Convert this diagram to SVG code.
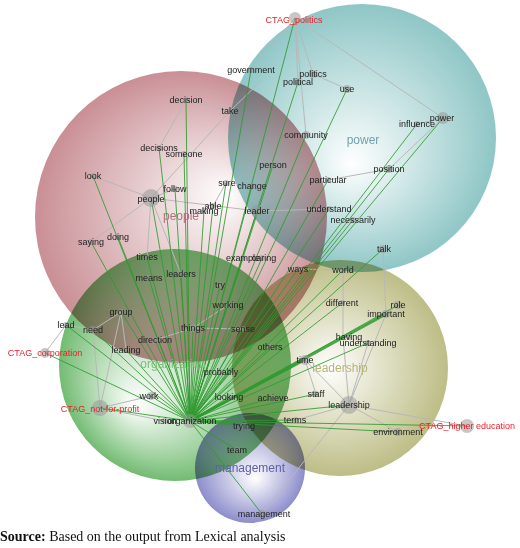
<svg xmlns="http://www.w3.org/2000/svg" width="520" height="548" viewBox="0 0 520 548">
<defs>
<radialGradient id="gPower" cx="0.5" cy="0.5" r="0.5" fx="0.46" fy="0.6"><stop offset="0" stop-color="#ffffff"/><stop offset="1" stop-color="#8fc6c6"/></radialGradient>
<radialGradient id="gPeople" cx="0.5" cy="0.5" r="0.5" fx="0.66" fy="0.42"><stop offset="0" stop-color="#ffffff"/><stop offset="1" stop-color="#c98f95"/></radialGradient>
<radialGradient id="gOrg" cx="0.5" cy="0.5" r="0.5" fx="0.32" fy="0.68"><stop offset="0" stop-color="#ffffff"/><stop offset="1" stop-color="#72bb72"/></radialGradient>
<radialGradient id="gLead" cx="0.5" cy="0.5" r="0.5" fx="0.45" fy="0.5"><stop offset="0" stop-color="#ffffff"/><stop offset="1" stop-color="#bdbd86"/></radialGradient>
<radialGradient id="gMan" cx="0.5" cy="0.5" r="0.5" fx="0.55" fy="0.6"><stop offset="0" stop-color="#ffffff"/><stop offset="1" stop-color="#8d8dcc"/></radialGradient>
</defs>
<style>
.cl{mix-blend-mode:multiply}
.w{font-family:"Liberation Sans",Arial,sans-serif;font-size:9px;fill:#222;text-anchor:middle}
.t{fill:#e8202a}
.big{font-family:"Liberation Sans",Arial,sans-serif;font-size:12px;text-anchor:middle}
.e{stroke:#b8b8b8;stroke-width:1;fill:none}
.gl{stroke:#2f9a2f;stroke-width:1;stroke-opacity:0.85;fill:none}
.gt{stroke:#2f9a2f;stroke-width:3;stroke-opacity:0.85;fill:none}
.n{fill:#999;fill-opacity:0.55}
.src{font-family:"Liberation Serif","Times New Roman",serif;font-size:14px;fill:#111}
</style>
<g id="clusters">
<circle class="cl" cx="362" cy="138" r="134" fill="url(#gPower)"/>
<circle class="cl" cx="181" cy="217" r="146" fill="url(#gPeople)"/>
<circle class="cl" cx="175" cy="365" r="116" fill="url(#gOrg)"/>
<circle class="cl" cx="340" cy="368" r="108" fill="url(#gLead)"/>
<circle class="cl" cx="250" cy="468" r="55" fill="url(#gMan)"/>
</g>
<g id="connectors">
<g class="e">
<line x1="295" y1="18" x2="251" y2="70"/>
<line x1="295" y1="18" x2="298" y2="82"/>
<line x1="295" y1="18" x2="313" y2="74"/>
<line x1="295" y1="18" x2="306" y2="135"/>
<line x1="295" y1="18" x2="443" y2="118"/>
<line x1="313" y1="74" x2="347" y2="89"/>
<line x1="186" y1="100" x2="230" y2="111"/>
<line x1="186" y1="100" x2="159" y2="148"/>
<line x1="230" y1="111" x2="151" y2="198"/>
<line x1="262" y1="80" x2="230" y2="111"/>
<line x1="151" y1="198" x2="93" y2="176"/>
<line x1="151" y1="198" x2="91" y2="242"/>
<line x1="151" y1="198" x2="175" y2="189"/>
<line x1="151" y1="198" x2="257" y2="211"/>
<line x1="151" y1="198" x2="147" y2="257"/>
<line x1="151" y1="198" x2="181" y2="274"/>
<line x1="226" y1="183" x2="213" y2="206"/>
<line x1="257" y1="211" x2="329" y2="209"/>
<line x1="328" y1="180" x2="389" y2="169"/>
<line x1="389" y1="169" x2="443" y2="118"/>
<line x1="417" y1="124" x2="443" y2="118"/>
<line x1="383" y1="249" x2="386" y2="314"/>
<line x1="343" y1="270" x2="343" y2="337"/>
<line x1="298" y1="269" x2="343" y2="270"/>
<line x1="386" y1="314" x2="398" y2="305"/>
<line x1="386" y1="314" x2="349" y2="405"/>
<line x1="343" y1="337" x2="349" y2="405"/>
<line x1="368" y1="343" x2="349" y2="405"/>
<line x1="305" y1="360" x2="349" y2="405"/>
<line x1="305" y1="360" x2="316" y2="394"/>
<line x1="349" y1="405" x2="296" y2="420"/>
<line x1="349" y1="405" x2="398" y2="432"/>
<line x1="349" y1="405" x2="467" y2="426"/>
<line x1="349" y1="405" x2="262" y2="514"/>
<line x1="121" y1="312" x2="93" y2="330"/>
<line x1="121" y1="312" x2="126" y2="350"/>
<line x1="121" y1="312" x2="100" y2="408"/>
<line x1="66" y1="325" x2="93" y2="330"/>
<line x1="66" y1="325" x2="45" y2="353"/>
<line x1="93" y1="330" x2="100" y2="408"/>
<line x1="100" y1="408" x2="151" y2="396"/>
<line x1="100" y1="408" x2="165" y2="421"/>
<line x1="193" y1="328" x2="243" y2="329"/>
<line x1="193" y1="328" x2="155" y2="340"/>
<line x1="193" y1="328" x2="228" y2="305"/>
</g>
<g class="gl">
<line x1="190" y1="421" x2="295" y2="18"/>
<line x1="190" y1="421" x2="251" y2="70"/>
<line x1="190" y1="421" x2="298" y2="82"/>
<line x1="190" y1="421" x2="347" y2="89"/>
<line x1="190" y1="421" x2="186" y2="100"/>
<line x1="190" y1="421" x2="306" y2="135"/>
<line x1="190" y1="421" x2="443" y2="118"/>
<line x1="190" y1="421" x2="417" y2="124"/>
<line x1="190" y1="421" x2="389" y2="169"/>
<line x1="190" y1="421" x2="273" y2="165"/>
<line x1="190" y1="421" x2="159" y2="148"/>
<line x1="190" y1="421" x2="184" y2="154"/>
<line x1="190" y1="421" x2="93" y2="176"/>
<line x1="190" y1="421" x2="151" y2="198"/>
<line x1="190" y1="421" x2="175" y2="189"/>
<line x1="190" y1="421" x2="226" y2="183"/>
<line x1="190" y1="421" x2="252" y2="186"/>
<line x1="190" y1="421" x2="204" y2="211"/>
<line x1="190" y1="421" x2="213" y2="206"/>
<line x1="190" y1="421" x2="257" y2="211"/>
<line x1="190" y1="421" x2="328" y2="180"/>
<line x1="190" y1="421" x2="329" y2="209"/>
<line x1="190" y1="421" x2="353" y2="220"/>
<line x1="190" y1="421" x2="383" y2="249"/>
<line x1="190" y1="421" x2="91" y2="242"/>
<line x1="190" y1="421" x2="118" y2="237"/>
<line x1="190" y1="421" x2="147" y2="257"/>
<line x1="190" y1="421" x2="149" y2="278"/>
<line x1="190" y1="421" x2="181" y2="274"/>
<line x1="190" y1="421" x2="243" y2="258"/>
<line x1="190" y1="421" x2="262" y2="258"/>
<line x1="190" y1="421" x2="298" y2="269"/>
<line x1="190" y1="421" x2="343" y2="270"/>
<line x1="190" y1="421" x2="220" y2="285"/>
<line x1="190" y1="421" x2="228" y2="305"/>
<line x1="190" y1="421" x2="121" y2="312"/>
<line x1="190" y1="421" x2="66" y2="325"/>
<line x1="190" y1="421" x2="93" y2="330"/>
<line x1="190" y1="421" x2="193" y2="328"/>
<line x1="190" y1="421" x2="243" y2="329"/>
<line x1="190" y1="421" x2="155" y2="340"/>
<line x1="190" y1="421" x2="126" y2="350"/>
<line x1="190" y1="421" x2="45" y2="353"/>
<line x1="190" y1="421" x2="270" y2="347"/>
<line x1="190" y1="421" x2="342" y2="303"/>
<line x1="190" y1="421" x2="398" y2="305"/>
<line x1="190" y1="421" x2="368" y2="343"/>
<line x1="190" y1="421" x2="221" y2="372"/>
<line x1="190" y1="421" x2="151" y2="396"/>
<line x1="190" y1="421" x2="229" y2="397"/>
<line x1="190" y1="421" x2="273" y2="398"/>
<line x1="190" y1="421" x2="100" y2="408"/>
<line x1="190" y1="421" x2="316" y2="394"/>
<line x1="190" y1="421" x2="349" y2="405"/>
<line x1="190" y1="421" x2="244" y2="426"/>
<line x1="190" y1="421" x2="296" y2="420"/>
<line x1="190" y1="421" x2="398" y2="432"/>
<line x1="190" y1="421" x2="467" y2="426"/>
<line x1="190" y1="421" x2="237" y2="450"/>
<line x1="190" y1="421" x2="262" y2="514"/>
</g>
<g class="gt">
<line x1="190" y1="421" x2="386" y2="314"/>
<line x1="190" y1="421" x2="305" y2="360" stroke-width="2"/>
</g>
</g>
<g id="labels-big">
<text class="big" x="363" y="144" fill="#6fa3aa">power</text>
<text class="big" x="181" y="220" fill="#b2717f">people</text>
<text class="big" x="173" y="368" fill="#78c278">organization</text>
<text class="big" x="340" y="372" fill="#b6b579">leadership</text>
<text class="big" x="250" y="472" fill="#5f60a8">management</text>
</g>
<g id="nodes">
<g id="n-ctag-politics"><circle class="n" cx="295" cy="18" r="6"/><text class="w t" x="294" y="23">CTAG_politics</text></g>
<g id="n-government"><circle class="n" cx="251" cy="70" r="3"/><text class="w" x="251" y="73">government</text></g>
<g id="n-politics"><circle class="n" cx="313" cy="74" r="4"/><text class="w" x="313" y="77">politics</text></g>
<g id="n-political"><circle class="n" cx="298" cy="82" r="4"/><text class="w" x="298" y="85">political</text></g>
<g id="n-use"><circle class="n" cx="347" cy="89" r="4"/><text class="w" x="347" y="92">use</text></g>
<g id="n-decision"><circle class="n" cx="186" cy="100" r="3"/><text class="w" x="186" y="103">decision</text></g>
<g id="n-take"><circle class="n" cx="230" cy="111" r="3"/><text class="w" x="230" y="114">take</text></g>
<g id="n-community"><circle class="n" cx="306" cy="135" r="4"/><text class="w" x="306" y="138">community</text></g>
<g id="n-power"><circle class="n" cx="443" cy="118" r="6"/><text class="w" x="442" y="121">power</text></g>
<g id="n-influence"><circle class="n" cx="417" cy="124" r="3"/><text class="w" x="417" y="127">influence</text></g>
<g id="n-position"><circle class="n" cx="389" cy="169" r="4"/><text class="w" x="389" y="172">position</text></g>
<g id="n-person"><circle class="n" cx="273" cy="165" r="3"/><text class="w" x="273" y="168">person</text></g>
<g id="n-decisions"><circle class="n" cx="159" cy="148" r="3"/><text class="w" x="159" y="151">decisions</text></g>
<g id="n-someone"><circle class="n" cx="184" cy="154" r="3"/><text class="w" x="184" y="157">someone</text></g>
<g id="n-look"><circle class="n" cx="93" cy="176" r="3"/><text class="w" x="93" y="179">look</text></g>
<g id="n-people"><circle class="n" cx="151" cy="198" r="9"/><text class="w" x="151" y="202">people</text></g>
<g id="n-follow"><circle class="n" cx="175" cy="189" r="3"/><text class="w" x="175" y="192">follow</text></g>
<g id="n-sure"><circle class="n" cx="226" cy="183" r="3"/><text class="w" x="227" y="186">sure</text></g>
<g id="n-change"><circle class="n" cx="252" cy="186" r="3"/><text class="w" x="252" y="189">change</text></g>
<g id="n-making"><circle class="n" cx="204" cy="211" r="3"/><text class="w" x="204" y="214">making</text></g>
<g id="n-able"><circle class="n" cx="213" cy="206" r="3"/><text class="w" x="213" y="209">able</text></g>
<g id="n-leader"><circle class="n" cx="257" cy="211" r="6" fill="#667"/><text class="w" x="257" y="214">leader</text></g>
<g id="n-particular"><circle class="n" cx="328" cy="180" r="3"/><text class="w" x="328" y="183">particular</text></g>
<g id="n-understand"><circle class="n" cx="329" cy="209" r="3"/><text class="w" x="329" y="212">understand</text></g>
<g id="n-necessarily"><circle class="n" cx="353" cy="220" r="3"/><text class="w" x="353" y="223">necessarily</text></g>
<g id="n-talk"><circle class="n" cx="383" cy="249" r="4"/><text class="w" x="384" y="252">talk</text></g>
<g id="n-saying"><circle class="n" cx="91" cy="242" r="3"/><text class="w" x="91" y="245">saying</text></g>
<g id="n-doing"><circle class="n" cx="118" cy="237" r="3"/><text class="w" x="118" y="240">doing</text></g>
<g id="n-times"><circle class="n" cx="147" cy="257" r="3"/><text class="w" x="147" y="260">times</text></g>
<g id="n-means"><circle class="n" cx="149" cy="278" r="3"/><text class="w" x="149" y="281">means</text></g>
<g id="n-leaders"><circle class="n" cx="181" cy="274" r="4"/><text class="w" x="181" y="277">leaders</text></g>
<g id="n-example"><circle class="n" cx="243" cy="258" r="3"/><text class="w" x="243" y="261">example</text></g>
<g id="n-caring"><circle class="n" cx="262" cy="258" r="3"/><text class="w" x="264" y="261">caring</text></g>
<g id="n-ways"><circle class="n" cx="298" cy="269" r="3"/><text class="w" x="298" y="272">ways</text></g>
<g id="n-world"><circle class="n" cx="343" cy="270" r="3"/><text class="w" x="343" y="273">world</text></g>
<g id="n-try"><circle class="n" cx="220" cy="285" r="3"/><text class="w" x="220" y="288">try</text></g>
<g id="n-working"><circle class="n" cx="228" cy="305" r="3"/><text class="w" x="228" y="308">working</text></g>
<g id="n-group"><circle class="n" cx="121" cy="312" r="3"/><text class="w" x="121" y="315">group</text></g>
<g id="n-lead"><circle class="n" cx="66" cy="325" r="3"/><text class="w" x="66" y="328">lead</text></g>
<g id="n-need"><circle class="n" cx="93" cy="330" r="4"/><text class="w" x="93" y="333">need</text></g>
<g id="n-things"><circle class="n" cx="193" cy="328" r="4"/><text class="w" x="193" y="331">things</text></g>
<g id="n-sense"><circle class="n" cx="243" cy="329" r="3"/><text class="w" x="243" y="332">sense</text></g>
<g id="n-direction"><circle class="n" cx="155" cy="340" r="3"/><text class="w" x="155" y="343">direction</text></g>
<g id="n-leading"><circle class="n" cx="126" cy="350" r="3"/><text class="w" x="126" y="353">leading</text></g>
<g id="n-ctag-corporation"><circle class="n" cx="45" cy="353" r="5"/><text class="w t" x="45" y="356">CTAG_corporation</text></g>
<g id="n-others"><circle class="n" cx="270" cy="347" r="3"/><text class="w" x="270" y="350">others</text></g>
<g id="n-time"><circle class="n" cx="305" cy="360" r="5"/><text class="w" x="305" y="363">time</text></g>
<g id="n-having"><circle class="n" cx="349" cy="337" r="3"/><text class="w" x="349" y="340">having</text></g>
<g id="n-understanding"><circle class="n" cx="368" cy="343" r="3"/><text class="w" x="368" y="346">understanding</text></g>
<g id="n-different"><circle class="n" cx="342" cy="303" r="3"/><text class="w" x="342" y="306">different</text></g>
<g id="n-role"><circle class="n" cx="398" cy="305" r="4"/><text class="w" x="398" y="308">role</text></g>
<g id="n-important"><circle class="n" cx="386" cy="314" r="4"/><text class="w" x="386" y="317">important</text></g>
<g id="n-staff"><circle class="n" cx="316" cy="394" r="3"/><text class="w" x="316" y="397">staff</text></g>
<g id="n-leadership"><circle class="n" cx="349" cy="405" r="9"/><text class="w" x="349" y="408">leadership</text></g>
<g id="n-probably"><circle class="n" cx="221" cy="372" r="3"/><text class="w" x="221" y="375">probably</text></g>
<g id="n-work"><circle class="n" cx="151" cy="396" r="4"/><text class="w" x="149" y="399">work</text></g>
<g id="n-looking"><circle class="n" cx="229" cy="397" r="3"/><text class="w" x="229" y="400">looking</text></g>
<g id="n-achieve"><circle class="n" cx="273" cy="398" r="3"/><text class="w" x="273" y="401">achieve</text></g>
<g id="n-ctag-nfp"><circle class="n" cx="100" cy="408" r="8"/><text class="w t" x="100" y="412">CTAG_not-for-profit</text></g>
<g id="n-vision"><circle class="n" cx="165" cy="421" r="3"/><text class="w" x="165" y="424">vision</text></g>
<g id="n-organization"><circle class="n" cx="190" cy="421" r="7"/><text class="w" x="192" y="424">organization</text></g>
<g id="n-trying"><circle class="n" cx="244" cy="426" r="3"/><text class="w" x="244" y="429">trying</text></g>
<g id="n-terms"><circle class="n" cx="296" cy="420" r="3"/><text class="w" x="295" y="423">terms</text></g>
<g id="n-environment"><circle class="n" cx="398" cy="432" r="4"/><text class="w" x="398" y="435">environment</text></g>
<g id="n-ctag-higher"><circle class="n" cx="467" cy="426" r="7"/><text class="w t" x="467" y="429">CTAG_higher education</text></g>
<g id="n-team"><circle class="n" cx="237" cy="450" r="3"/><text class="w" x="237" y="453">team</text></g>
<g id="n-management"><circle class="n" cx="262" cy="514" r="4"/><text class="w" x="264" y="517">management</text></g>
</g>
<text class="src" x="0" y="541"><tspan font-weight="bold">Source:</tspan> Based on the output from Lexical analysis</text>
</svg>
